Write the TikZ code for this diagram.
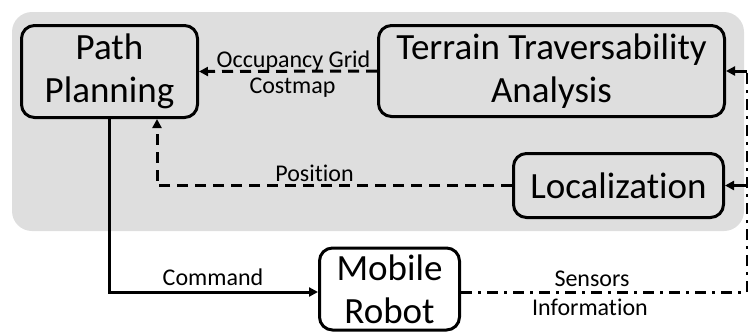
\documentclass[tikz,border=0pt]{standalone}
\usepackage{fontspec}
\setmainfont{Carlito}[Ligatures={NoCommon}]
\usetikzlibrary{arrows.meta}
\definecolor{panel}{RGB}{222,222,222}
\tikzset{
  block/.style={draw, line width=3pt, rounded corners=13pt, inner sep=0pt,
    align=center, font=\fontsize{37}{43}\selectfont},
  lbl/.style={font=\fontsize{24}{27}\selectfont, inner sep=0pt, anchor=base},
  link/.style={line width=3pt},
  tip/.style={-{Triangle[length=9pt,width=9pt]}},
  dash link/.style={link, dash pattern=on 11pt off 7pt},
  sensor link/.style={link, dash pattern=on 11pt off 6pt on 3pt off 6pt},
}
\begin{document}
\begin{tikzpicture}[x=1pt, y=-1pt]
\useasboundingbox (0,0) rectangle (748,333);
% shared background panel for the perception/planning stack
\fill[panel, rounded corners=20pt] (12,12) rectangle (744,231);

\node[block, minimum width=176pt, minimum height=92pt] (pp) at (109.5,71.5) {Path\\Planning};
\node[block, minimum width=346pt, minimum height=91pt] (tta) at (551.5,71) {Terrain Traversability\\Analysis};
\node[block, minimum width=210pt, minimum height=64pt] (loc) at (618.5,185.5) {Localization};
\node[block, minimum width=140pt, minimum height=82pt] (robot) at (389.5,289) {Mobile\\Robot};
% robot ports, level with the command and sensor lines
\coordinate (rin) at ([yshift=-3pt]robot.west);
\coordinate (rout) at ([yshift=-3pt]robot.east);

% occupancy grid from terrain analysis to planner
\draw[dash link, tip] (tta.west) -- (pp.east);
\node[lbl] (og) at (293.5,67) {Occupancy Grid};
\node[lbl] (cm) at (292.5,93) {Costmap};

% pose estimate into the planner
\coordinate (posin) at ([xshift=47.5pt]pp.south);
\draw[dash link, tip] (loc.west) -| (posin);
\node[lbl] (pos) at (314.5,181) {Position};

% commands to the robot
\draw[link, tip] (pp.south) |- (rin);
\node[lbl] (cmd) at (213,285) {Command};

% sensor feedback bus on the right edge
\coordinate (busb) at (747,292);
\coordinate (bust) at (747,71);
\coordinate (busl) at (747,185.5);
\draw[sensor link] (rout) -- (busb) -- (bust);
\draw[link, tip] (bust) -- (tta.east);
\draw[link, tip] (busl) -- (loc.east);
\node[lbl] (sens) at (592,286) {Sensors};
\node[lbl] (info) at (590,315) {Information};
\end{tikzpicture}
\end{document}
